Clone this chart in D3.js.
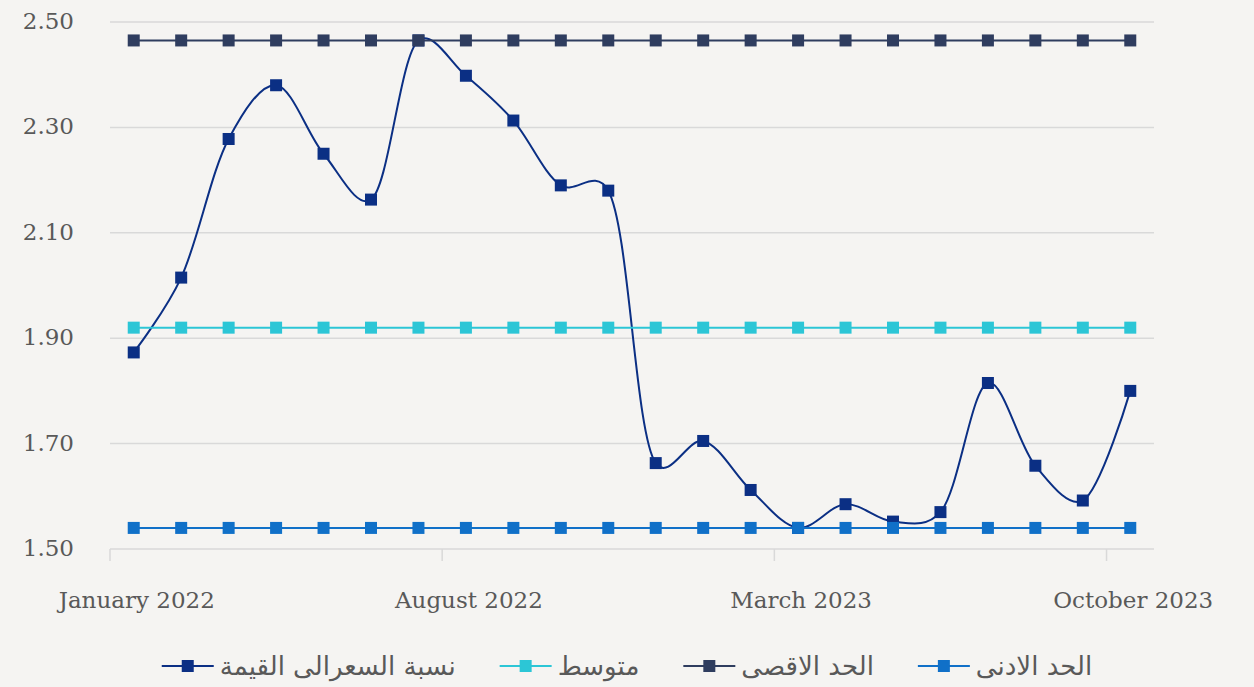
<!DOCTYPE html>
<html lang="ar">
<head>
    <meta charset="UTF-8">
    <title>Price to value ratio</title>
    <script src="https://d3js.org/d3.v7.min.js"></script>
    <style>
        html, body { margin: 0; padding: 0; background: #f5f4f2; }
        #chart svg { display: block; }
        .tick-label { font-family: "DejaVu Serif", serif; font-size: 23px; fill: #595959; }
        .legend-label { font-family: "DejaVu Sans", "Noto Sans", sans-serif; font-size: 26px; fill: #595959; }
    </style>
</head>
<body>
    <div id="chart"></div>
    <script>
        // months Jan 2022 .. Oct 2023
        var months = ["January 2022", "February 2022", "March 2022", "April 2022", "May 2022", "June 2022",
            "July 2022", "August 2022", "September 2022", "October 2022", "November 2022", "December 2022",
            "January 2023", "February 2023", "March 2023", "April 2023", "May 2023", "June 2023",
            "July 2023", "August 2023", "September 2023", "October 2023"];
        var ratio = [1.873, 2.015, 2.278, 2.38, 2.25, 2.163, 2.465, 2.398, 2.313, 2.19, 2.18,
            1.663, 1.705, 1.612, 1.54, 1.585, 1.552, 1.57, 1.815, 1.658, 1.592, 1.80];
        var avgValue = 1.92;
        var maxValue = 2.465;
        var minValue = 1.54;
        var yTicks = [1.50, 1.70, 1.90, 2.10, 2.30, 2.50];
        var xLabelIndex = [0, 7, 14, 21];

        var seriesNames = ["نسبة السعرالى القيمة", "متوسط", "الحد الاقصى", "الحد الادنى"];
        var seriesColors = ["#0b2f84", "#2cc6d6", "#2f3d5f", "#1070c8"];

        var series = [
            { name: seriesNames[0], color: seriesColors[0], values: ratio, smooth: true },
            { name: seriesNames[1], color: seriesColors[1], values: months.map(function() { return avgValue; }) },
            { name: seriesNames[2], color: seriesColors[2], values: months.map(function() { return maxValue; }) },
            { name: seriesNames[3], color: seriesColors[3], values: months.map(function() { return minValue; }) }
        ];

        var width = 1254, height = 687;
        var svg = d3.select("#chart").append("svg")
            .attr("width", width).attr("height", height);

        var x = d3.scaleBand().domain(d3.range(months.length)).range([110, 1154]);
        var y = d3.scaleLinear().domain([1.5, 2.5]).range([549, 22]);
        var cx = function(i) { return x(i) + x.bandwidth() / 2; };

        // gridlines
        svg.append("g").selectAll("line")
            .data(yTicks.slice(1))
            .join("line")
            .attr("x1", 110).attr("x2", 1154)
            .attr("y1", function(d) { return y(d); })
            .attr("y2", function(d) { return y(d); })
            .attr("stroke", "#d9d9d9").attr("stroke-width", 1.5);

        // y labels
        svg.append("g").selectAll("text")
            .data(yTicks)
            .join("text")
            .attr("class", "tick-label")
            .attr("x", 74)
            .attr("y", function(d) { return y(d) + 7; })
            .attr("text-anchor", "end")
            .text(function(d) { return d.toFixed(2); });

        // x axis line + ticks at category boundaries
        svg.append("line")
            .attr("x1", 110).attr("x2", 1154)
            .attr("y1", y(1.5)).attr("y2", y(1.5))
            .attr("stroke", "#d9d9d9").attr("stroke-width", 1.5);
        svg.append("g").selectAll("line")
            .data(xLabelIndex)
            .join("line")
            .attr("x1", function(i) { return x(i); })
            .attr("x2", function(i) { return x(i); })
            .attr("y1", y(1.5)).attr("y2", y(1.5) + 12)
            .attr("stroke", "#d9d9d9").attr("stroke-width", 1.5);

        svg.append("g").selectAll("text")
            .data(xLabelIndex)
            .join("text")
            .attr("class", "tick-label")
            .attr("x", function(i) { return cx(i) + 3; })
            .attr("y", 608)
            .attr("text-anchor", "middle")
            .text(function(i) { return months[i]; });

        // series
        series.forEach(function(s) {
            var line = d3.line()
                .x(function(d, i) { return cx(i); })
                .y(function(d) { return y(d); })
                .curve(s.smooth ? d3.curveCatmullRom.alpha(0.25) : d3.curveLinear);
            var g = svg.append("g");
            g.append("path")
                .datum(s.values)
                .attr("d", line)
                .attr("fill", "none")
                .attr("stroke", s.color)
                .attr("stroke-width", 2);
            g.selectAll("rect")
                .data(s.values)
                .join("rect")
                .attr("x", function(d, i) { return cx(i) - 6; })
                .attr("y", function(d) { return y(d) - 6; })
                .attr("width", 12).attr("height", 12)
                .attr("fill", s.color);
        });

        // legend
        var legend = svg.append("g");
        var items = legend.selectAll("g")
            .data(series)
            .join("g");
        items.append("line")
            .attr("x1", 0).attr("x2", 52)
            .attr("y1", 0).attr("y2", 0)
            .attr("stroke", function(d) { return d.color; })
            .attr("stroke-width", 2);
        items.append("rect")
            .attr("x", 20).attr("y", -6)
            .attr("width", 12).attr("height", 12)
            .attr("fill", function(d) { return d.color; });
        items.append("text")
            .attr("class", "legend-label")
            .attr("x", 58).attr("y", 9)
            .attr("text-anchor", "start")
            .text(function(d) { return d.name; });

        var offset = 0;
        var gap = 44;
        items.each(function() {
            var w = 58 + this.querySelector("text").getComputedTextLength();
            d3.select(this).attr("data-x", offset);
            offset += w + gap;
        });
        var total = offset - gap;
        var start = 627 - total / 2;
        items.attr("transform", function() {
            return "translate(" + (start + (+this.getAttribute("data-x"))) + ",666)";
        });
    </script>
</body>
</html>
